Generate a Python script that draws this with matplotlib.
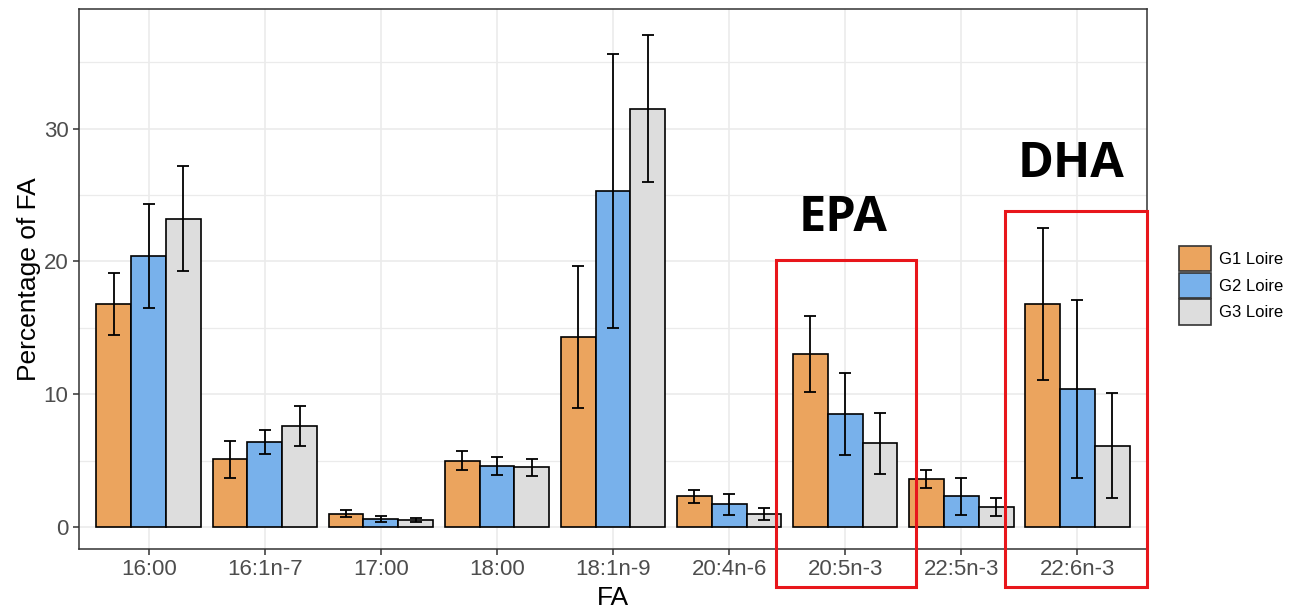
import matplotlib
matplotlib.use("Agg")
import matplotlib.pyplot as plt
from matplotlib.patches import Rectangle, Patch
import numpy as np

plt.rcParams['font.family'] = ['Liberation Sans', 'DejaVu Sans']

# fatty acids on the x axis
fatty_acids = ['16:00', '16:1n-7', '17:00', '18:00', '18:1n-9',
               '20:4n-6', '20:5n-3', '22:5n-3', '22:6n-3']
groups = ['G1 Loire', 'G2 Loire', 'G3 Loire']
colors = ['#EBA45E', '#78B1EB', '#DDDDDD']

# mean percentage
g1_mean = [16.8, 5.1, 1.0, 5.0, 14.3, 2.3, 13.0, 3.6, 16.8]
g2_mean = [20.4, 6.4, 0.6, 4.6, 25.3, 1.7, 8.5, 2.3, 10.4]
g3_mean = [23.2, 7.6, 0.5, 4.5, 31.5, 1.0, 6.3, 1.5, 6.1]

# half length of the error bars
g1_err = [2.35, 1.4, 0.25, 0.7, 5.35, 0.5, 2.85, 0.7, 5.7]
g2_err = [3.95, 0.9, 0.25, 0.7, 10.3, 0.8, 3.1, 1.4, 6.7]
g3_err = [3.95, 1.5, 0.15, 0.65, 5.55, 0.45, 2.3, 0.65, 3.95]

means = [g1_mean, g2_mean, g3_mean]
errs = [g1_err, g2_err, g3_err]

fig = plt.figure(figsize=(12.91, 6.12), dpi=100)
ax = fig.add_axes([0.0612, 0.1029, 0.8273, 0.8824])

x = np.arange(len(fatty_acids))
w = 0.3
for i in range(3):
    ax.bar(x + (i - 1) * w, means[i], width=w, color=colors[i],
           edgecolor='black', linewidth=1.2, zorder=3)
    ax.errorbar(x + (i - 1) * w, means[i], yerr=errs[i], fmt='none',
                ecolor='black', elinewidth=1.3, capsize=4, capthick=1.3, zorder=4)

ax.set_xlim(-0.6, 8.6)
ax.set_ylim(-1.66, 39.0)
ax.set_xticks(x)
ax.set_xticklabels(fatty_acids)
ax.set_yticks([0, 10, 20, 30])
ax.set_yticks([5, 15, 25, 35], minor=True)
ax.grid(True, which='major', color='#EBEBEB', linewidth=1.2, zorder=0)
ax.grid(True, which='minor', axis='y', color='#EBEBEB', linewidth=0.9, zorder=0)
ax.set_axisbelow(True)
ax.tick_params(axis='both', which='major', labelsize=16, labelcolor='#4D4D4D',
               color='#333333', length=4, width=1.1)
ax.tick_params(axis='y', which='minor', length=0)
for s in ax.spines.values():
    s.set_color('#333333')
    s.set_linewidth(1.1)
ax.set_xlabel('FA', fontsize=19, labelpad=4)
ax.set_ylabel('Percentage of FA', fontsize=19, labelpad=2)

handles = [Patch(facecolor=c, edgecolor='#333333', linewidth=1.2) for c in colors]
fig.legend(handles, groups, loc='center left', bbox_to_anchor=(0.913, 0.534),
           frameon=False, fontsize=12, handlelength=1.95, handleheight=1.95,
           labelspacing=0.1, handletextpad=0.45, borderaxespad=0, borderpad=0)

# highlight boxes for EPA and DHA, drawn in figure coordinates
W, H = 1291, 612
for (x0, y0, x1, y1) in [(776, 260, 916, 587), (1005, 211, 1147, 587)]:
    fig.patches.append(Rectangle((x0 / W, 1 - y1 / H), (x1 - x0) / W, (y1 - y0) / H,
                                 transform=fig.transFigure, fill=False,
                                 edgecolor='#E8161B', linewidth=2.2, zorder=10))
fig.text(843 / W, 1 - 218 / H, 'EPA', fontsize=35, fontweight='bold',
         family=['Open Sans', 'DejaVu Sans'], ha='center', va='center')
fig.text(1071 / W, 1 - 165 / H, 'DHA', fontsize=35, fontweight='bold',
         family=['Open Sans', 'DejaVu Sans'], ha='center', va='center')

fig.savefig('out.png', dpi=100)
